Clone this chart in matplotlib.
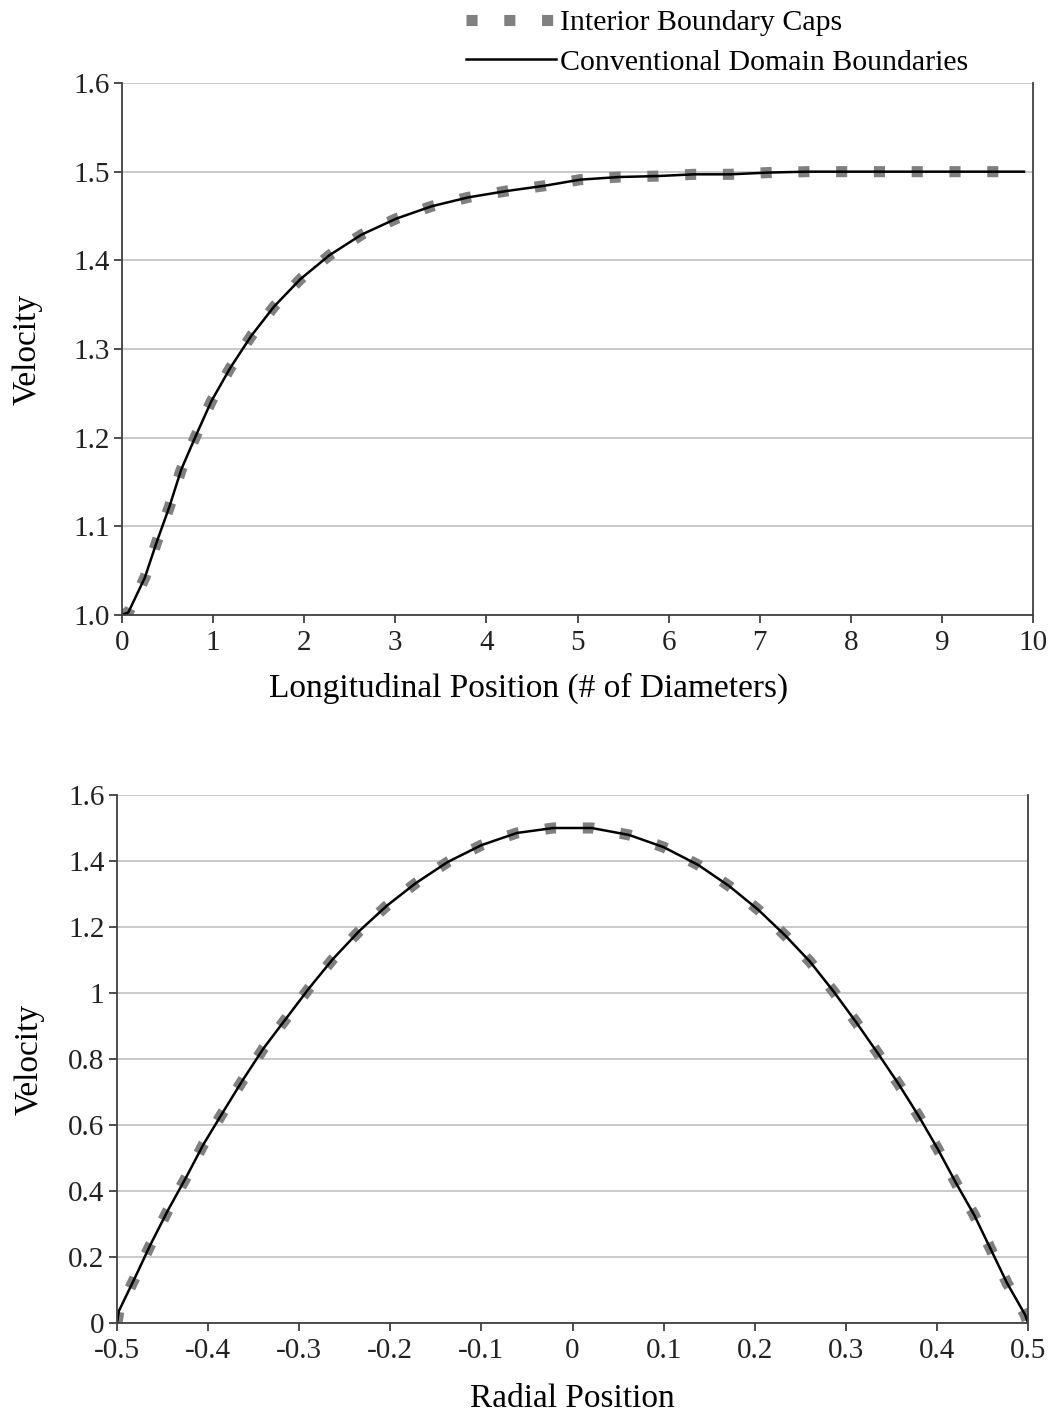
import numpy as np
import matplotlib.pyplot as plt

plt.rcParams['font.family'] = ['Liberation Serif', 'DejaVu Serif']

# longitudinal development of centerline velocity
x_long = [0.0, 0.07, 0.25, 0.38, 0.52, 0.65, 0.81, 0.98, 1.19, 1.42, 1.67, 1.96,
          2.28, 2.63, 3.01, 3.40, 3.80, 4.21, 4.63, 5.03, 5.46, 5.87, 6.28,
          6.68, 7.10, 7.52, 7.94, 8.34, 8.76, 9.18, 9.59, 9.90]
v_long = [1.0, 1.003, 1.042, 1.082, 1.122, 1.164, 1.202, 1.241, 1.279, 1.315, 1.348,
          1.379, 1.406, 1.429, 1.447, 1.461, 1.471, 1.478, 1.484, 1.491, 1.494,
          1.495, 1.497, 1.497, 1.499, 1.5, 1.5, 1.5, 1.5, 1.5, 1.5, 1.5]

# radial velocity profile
r_rad = [-0.5, -0.498, -0.480, -0.463, -0.444, -0.424, -0.405, -0.383, -0.362, -0.339,
         -0.314, -0.289, -0.263, -0.234, -0.204, -0.172, -0.137, -0.100, -0.061,
         -0.021, 0.021, 0.062, 0.100, 0.138, 0.172, 0.204, 0.234, 0.261, 0.287,
         0.312, 0.335, 0.358, 0.380, 0.401, 0.421, 0.441, 0.459, 0.477, 0.497, 0.5]
v_rad = [0.0, 0.036, 0.139, 0.239, 0.342, 0.442, 0.542, 0.642, 0.736, 0.833, 0.924,
         1.015, 1.103, 1.188, 1.264, 1.333, 1.397, 1.448, 1.485, 1.5, 1.5, 1.479,
         1.442, 1.388, 1.324, 1.252, 1.173, 1.094, 1.003, 0.909, 0.818, 0.724,
         0.627, 0.527, 0.424, 0.327, 0.224, 0.121, 0.024, 0.0]

labels = ['Interior Boundary Caps', 'Conventional Domain Boundaries']
gray = '#808080'

fig = plt.figure(figsize=(10.55, 14.16), dpi=100)
ax1 = fig.add_axes([122 / 1055, 1 - 615 / 1416, 911 / 1055, 532 / 1416])
ax2 = fig.add_axes([117 / 1055, 1 - 1323 / 1416, 911 / 1055, 528 / 1416])


def style(ax):
    ax.grid(axis='y', color='#c0c0c0', lw=1.2)
    ax.set_axisbelow(True)
    ax.spines['top'].set_visible(False)
    for s in ['left', 'bottom', 'right']:
        ax.spines[s].set_color('#404040')
        ax.spines[s].set_linewidth(1.3)
    ax.tick_params(labelsize=21, length=6, width=1.3, color='#404040',
                   labelcolor='#222222', pad=5)
    ax.tick_params(axis='y', pad=3)


# top panel
g1, = ax1.plot(x_long, v_long, color=gray, lw=8, dashes=(1, 2.4),
               solid_capstyle='butt', dash_capstyle='butt', label=labels[0])
k1, = ax1.plot(x_long, v_long, color='black', lw=1.8, label=labels[1])
ax1.set_xlim(0, 10)
ax1.set_ylim(1.0, 1.6)
ax1.set_xticks(range(0, 11))
ax1.set_yticks(np.arange(1.0, 1.61, 0.1))
ax1.set_yticklabels(['%.1f' % t for t in np.arange(1.0, 1.61, 0.1)])
ax1.set_xlabel('Longitudinal Position (# of Diameters)', fontsize=24)
ax1.xaxis.set_label_coords(0.446, -0.108)
ax1.set_ylabel('Velocity', fontsize=24, labelpad=22)
style(ax1)

fig.legend(handles=[g1, k1], loc='upper left', bbox_to_anchor=(448 / 1055, 1.006),
           frameon=False, fontsize=21.5, handlelength=3.0, handletextpad=0.15,
           labelspacing=0.42, borderaxespad=0.2)

# bottom panel
ax2.plot(r_rad, v_rad, color=gray, lw=8, dashes=(1, 2.4),
         solid_capstyle='butt', dash_capstyle='butt')
ax2.plot(r_rad, v_rad, color='black', lw=1.8)
ax2.set_xlim(-0.5, 0.5)
ax2.set_ylim(0, 1.6)
xt = np.round(np.arange(-0.5, 0.51, 0.1), 1)
ax2.set_xticks(xt)
ax2.set_xticklabels(['0' if t == 0 else '%g' % t for t in xt])
yt = np.round(np.arange(0, 1.61, 0.2), 1)
ax2.set_yticks(yt)
ax2.set_yticklabels(['%g' % t for t in yt])
ax2.set_xlabel('Radial Position', fontsize=24, labelpad=14)
ax2.set_ylabel('Velocity', fontsize=24, labelpad=17)
style(ax2)

fig.savefig('out.png', dpi=100)
